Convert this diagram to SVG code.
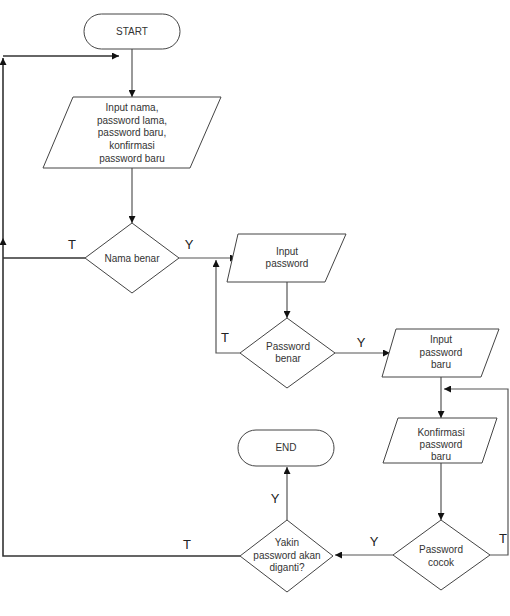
<svg xmlns="http://www.w3.org/2000/svg" width="510" height="616" viewBox="0 0 510 616">
<style>
.shape{fill:#fff;stroke:#444;stroke-width:1}
.t{font-family:"Liberation Sans",Arial,sans-serif;font-size:10px;fill:#333;text-anchor:middle}
.lbl{font-family:"Liberation Sans",Arial,sans-serif;font-size:13px;fill:#222;text-anchor:middle}
.c{fill:none;stroke:#555;stroke-width:1.2}
.loop{fill:none;stroke:#333;stroke-width:1.6}
</style>
<defs>
<marker id="ah" viewBox="0 0 10 10" refX="10" refY="5" markerWidth="7" markerHeight="7" markerUnits="userSpaceOnUse" orient="auto">
<path d="M0,0 L10,5 L0,10 z" fill="#111"/>
</marker>
</defs>
<rect width="510" height="616" fill="#fff"/>
<g id="connectors">
<path class="c" d="M132,49 V97" marker-end="url(#ah)"/>
<path class="c" d="M132,168 V223" marker-end="url(#ah)"/>
<path class="loop" d="M240,556 H3 V238" marker-end="url(#ah)"/>
<path class="loop" d="M85,258 H3"/>
<path class="loop" d="M3,238 V58" marker-end="url(#ah)"/>
<path class="loop" d="M3,56 H119" marker-end="url(#ah)"/>
<path class="c" d="M179,258 H237" marker-end="url(#ah)"/>
<path class="c" d="M287,282 V318" marker-end="url(#ah)"/>
<path class="c" d="M240,353 H216 V260" marker-end="url(#ah)"/>
<path class="c" d="M335,353 H390" marker-end="url(#ah)"/>
<path class="c" d="M441,377 V418" marker-end="url(#ah)"/>
<path class="c" d="M490,555 H508 V389 H444" marker-end="url(#ah)"/>
<path class="c" d="M441,463 V520" marker-end="url(#ah)"/>
<path class="c" d="M393,555 H335" marker-end="url(#ah)"/>
<path class="c" d="M287,520 V467" marker-end="url(#ah)"/>
<text class="lbl" x="72" y="249">T</text>
<text class="lbl" x="189" y="249">Y</text>
<text class="lbl" x="225" y="342">T</text>
<text class="lbl" x="361" y="347">Y</text>
<text class="lbl" x="503" y="543">T</text>
<text class="lbl" x="374" y="546">Y</text>
<text class="lbl" x="275" y="503">Y</text>
<text class="lbl" x="187" y="549">T</text>
</g>
<g id="start">
<rect class="shape" x="84" y="14" width="96" height="35" rx="17.5"/>
<text class="t" x="132" y="35">START</text>
</g>
<g id="input1">
<polygon class="shape" points="73,97 221,97 190,168 43,168"/>
<text class="t" x="132" y="111">Input nama,</text>
<text class="t" x="132" y="124">password lama,</text>
<text class="t" x="132" y="136">password baru,</text>
<text class="t" x="132" y="149">konfirmasi</text>
<text class="t" x="132" y="162">password baru</text>
</g>
<g id="nama-benar">
<polygon class="shape" points="132,223 179,258 132,293 85,258"/>
<text class="t" x="132" y="262">Nama benar</text>
</g>
<g id="input-password">
<polygon class="shape" points="238,234 346,234 325,282 227,282"/>
<text class="t" x="287" y="255">Input</text>
<text class="t" x="287" y="267">password</text>
</g>
<g id="password-benar">
<polygon class="shape" points="287,318 335,353 287,388 240,353"/>
<text class="t" x="288" y="350">Password</text>
<text class="t" x="288" y="362">benar</text>
</g>
<g id="input-password-baru">
<polygon class="shape" points="396,329 499,329 481,377 382,377"/>
<text class="t" x="441" y="343">Input</text>
<text class="t" x="441" y="356">password</text>
<text class="t" x="441" y="368">baru</text>
</g>
<g id="konfirmasi">
<polygon class="shape" points="398,418 497,418 482,463 383,463"/>
<text class="t" x="441" y="436">Konfirmasi</text>
<text class="t" x="441" y="448">password</text>
<text class="t" x="441" y="460">baru</text>
</g>
<g id="password-cocok">
<polygon class="shape" points="441,520 490,555 441,590 393,555"/>
<text class="t" x="441" y="553">Password</text>
<text class="t" x="441" y="566">cocok</text>
</g>
<g id="yakin">
<polygon class="shape" points="287,520 333,556 287,592 240,556"/>
<text class="t" x="287" y="546">Yakin</text>
<text class="t" x="287" y="559">password akan</text>
<text class="t" x="287" y="571">diganti?</text>
</g>
<g id="end">
<rect class="shape" x="238" y="430" width="96" height="36" rx="18"/>
<text class="t" x="286" y="451">END</text>
</g>
</svg>
